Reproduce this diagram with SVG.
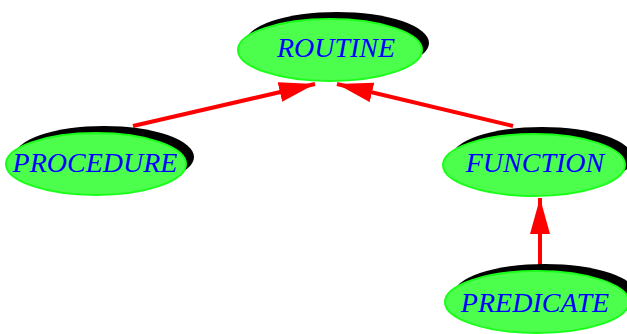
<svg xmlns="http://www.w3.org/2000/svg" width="627" height="334" viewBox="0 0 627 334">
  <style>
    .shadow { fill: #000000; }
    .body { fill: #4dff4d; stroke: #1aff1a; stroke-width: 2; }
    .label { font-family: "Liberation Serif", "Times New Roman", serif; font-style: italic; font-size: 28px; fill: #0000ff; text-anchor: middle; }
    .edge { stroke: #ff0000; stroke-width: 4; fill: none; marker-end: url(#arrow); }
  </style>
  <defs>
    <marker id="arrow" viewBox="0 0 36 20" refX="36" refY="10" markerWidth="36" markerHeight="20" markerUnits="userSpaceOnUse" orient="auto">
      <path d="M0,0 L36,10 L0,20 Z" fill="#ff0000"/>
    </marker>
  </defs>
  <g id="connectors">
    <line class="edge" x1="133" y1="126" x2="315" y2="84"/>
    <line class="edge" x1="513" y1="126" x2="337" y2="84"/>
    <line class="edge" x1="540" y1="265" x2="540" y2="198"/>
  </g>
  <g id="routine">
    <ellipse class="shadow" cx="337" cy="43" rx="92" ry="31"/>
    <ellipse class="body" cx="330" cy="50" rx="92" ry="31"/>
    <text class="label" x="336" y="57">ROUTINE</text>
  </g>
  <g id="procedure">
    <ellipse class="shadow" cx="104" cy="157" rx="90" ry="31"/>
    <ellipse class="body" cx="96" cy="164" rx="90" ry="31"/>
    <text class="label" x="95" y="172">PROCEDURE</text>
  </g>
  <g id="function">
    <ellipse class="shadow" cx="542" cy="158" rx="91" ry="31"/>
    <ellipse class="body" cx="534" cy="165" rx="91" ry="31"/>
    <text class="label" x="535" y="172">FUNCTION</text>
  </g>
  <g id="predicate">
    <ellipse class="shadow" cx="545" cy="295" rx="92" ry="31"/>
    <ellipse class="body" cx="537" cy="302" rx="92" ry="31"/>
    <text class="label" x="535" y="312">PREDICATE</text>
  </g>
</svg>
